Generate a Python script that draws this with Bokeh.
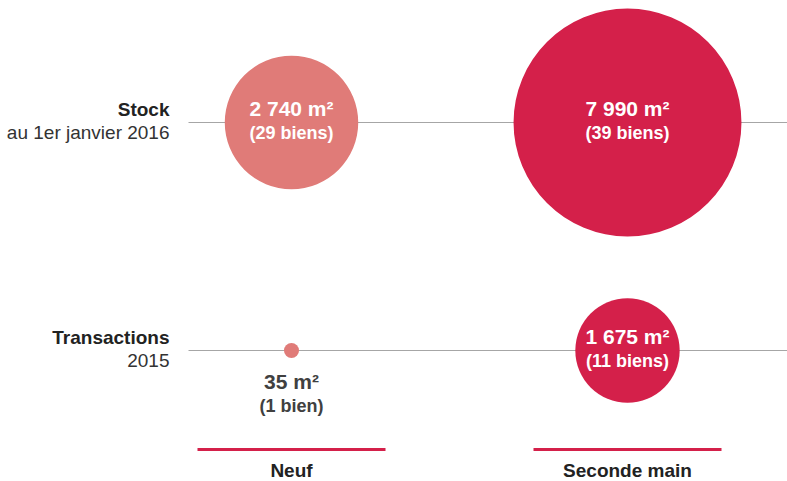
from bokeh.plotting import figure
from bokeh.models import Range1d
from bokeh.embed import file_html
from bokeh.resources import INLINE
from bokeh.core.properties import value
import math

# Data
categories = ["Neuf", "Seconde main"]
rows = ["Stock", "Transactions"]
row_subtitles = ["au 1er janvier 2016", "2015"]
stock_m2 = [2740, 7990]
stock_biens = [29, 39]
trans_m2 = [35, 1675]
trans_biens = [1, 11]

# Layout (pixels)
W, H = 787, 481
col_x = [291, 627]
row_y = [122, 350]
k = 1.275                      # px of radius per sqrt(m2)
colors = ["#E07B78", "#D4204A"]
FONT = value("Liberation Sans")

p = figure(width=W, height=H, x_range=Range1d(0, W), y_range=Range1d(H, 0),
           x_axis_type=None, y_axis_type=None, toolbar_location=None,
           output_backend="svg", min_border=0)
p.outline_line_color = None
p.xgrid.visible = False
p.ygrid.visible = False
p.background_fill_color = "white"
p.border_fill_color = "white"

# Row guide lines
for y in row_y:
    p.segment(x0=[188], y0=[y], x1=[W], y1=[y], line_color="#A6A6A6", line_width=1)

def fmt(v):
    return f"{v:,}".replace(",", " ")

def label_biens(n):
    return f"({n} bien{'s' if n > 1 else ''})"

xs, ys, sizes, cols = [], [], [], []
in_x, in_y1, in_y2, in_t1, in_t2 = [], [], [], [], []
out_x, out_y1, out_y2, out_t1, out_t2 = [], [], [], [], []
for ri, (vals, biens) in enumerate([(stock_m2, stock_biens), (trans_m2, trans_biens)]):
    for ci, (v, b) in enumerate(zip(vals, biens)):
        r = k * math.sqrt(v)
        xs.append(col_x[ci]); ys.append(row_y[ri]); sizes.append(2 * r); cols.append(colors[ci])
        t1 = f"{fmt(v)} m²"
        t2 = label_biens(b)
        if r > 30:
            in_x.append(col_x[ci]); in_y1.append(row_y[ri] - 14); in_y2.append(row_y[ri] + 10)
            in_t1.append(t1); in_t2.append(t2)
        else:
            out_x.append(col_x[ci]); out_y1.append(row_y[ri] + r + 23); out_y2.append(row_y[ri] + r + 48)
            out_t1.append(t1); out_t2.append(t2)

p.scatter(x=xs, y=ys, size=sizes, fill_color=cols, line_color=None)

p.text(x=in_x, y=in_y1, text=in_t1, text_color="white", text_font=FONT, text_font_style="bold",
       text_font_size="21px", text_align="center", text_baseline="middle")
p.text(x=in_x, y=in_y2, text=in_t2, text_color="white", text_font=FONT, text_font_style="bold",
       text_font_size="18px", text_align="center", text_baseline="middle")
p.text(x=out_x, y=out_y1, text=out_t1, text_color="#404040", text_font=FONT, text_font_style="bold",
       text_font_size="21px", text_align="center", text_baseline="middle")
p.text(x=out_x, y=out_y2, text=out_t2, text_color="#404040", text_font=FONT, text_font_style="bold",
       text_font_size="18px", text_align="center", text_baseline="middle")

# Row labels
p.text(x=[169] * 2, y=[y - 13 for y in row_y], text=rows, text_color="#222222", text_font=FONT,
       text_font_style="bold", text_font_size="19px", text_align="right", text_baseline="middle")
p.text(x=[169] * 2, y=[y + 10 for y in row_y], text=row_subtitles, text_color="#333333", text_font=FONT,
       text_font_size="19px", text_align="right", text_baseline="middle")

# Column footers
p.segment(x0=[x - 94 for x in col_x], y0=[449] * 2, x1=[x + 94 for x in col_x], y1=[449] * 2,
          line_color="#D4204A", line_width=3)
p.text(x=col_x, y=[470] * 2, text=categories, text_color="#222222", text_font=FONT,
       text_font_style="bold", text_font_size="19px", text_align="center", text_baseline="middle")

open("out.html", "w").write(file_html(p, INLINE))
